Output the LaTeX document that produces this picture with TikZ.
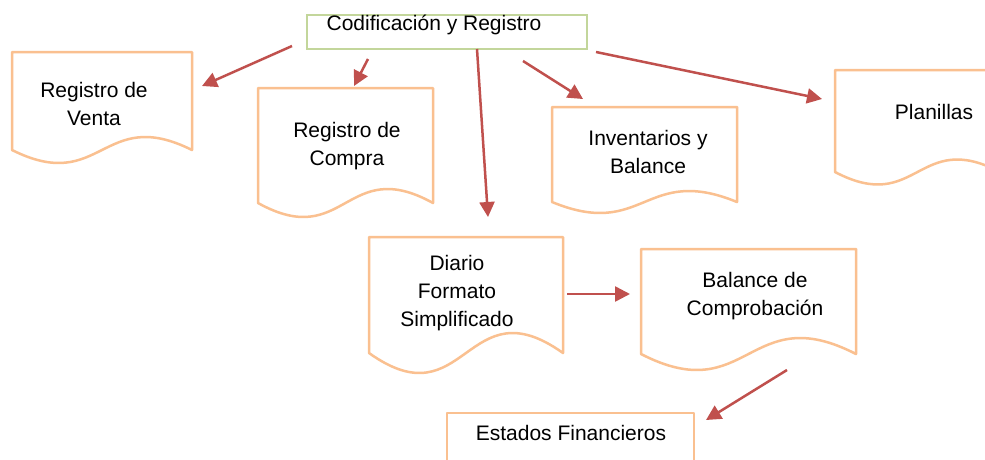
\documentclass[tikz,border=0pt]{standalone}
\usepackage{fontspec}
\setmainfont{Liberation Sans}
\usetikzlibrary{arrows.meta}
\definecolor{docorange}{HTML}{FAC090}
\definecolor{boxgreen}{HTML}{C3D69B}
\definecolor{arrred}{HTML}{C0504D}
\tikzset{
  docline/.style={draw=docorange, line width=2.5pt, line join=round},
  greenbox/.style={draw=boxgreen, line width=2.5pt, inner sep=0pt},
  arr/.style={draw=arrred, line width=2.5pt, -{Triangle[length=15pt,width=15pt]}},
  lbl/.style={font=\fontsize{21}{28}\selectfont, align=center, inner sep=0pt, text=black},
}
% document shape: x1, ytop, x2, ybottom, amplitude
\newcommand\docshp[5]{%
  \draw[docline] (#1,#4) -- (#1,#2) -- (#3,#2) -- (#3,#4)
    .. controls ({(#1+#3)/2},{#4-#5/0.289}) and ({(#1+#3)/2},{#4+#5/0.289}) .. (#1,#4) -- cycle;}
\begin{document}
\begin{tikzpicture}[x=1pt,y=-1pt]
\useasboundingbox (0,0) rectangle (985,459);
\clip (0,0) rectangle (985,459);
\fill[white] (0,0) rectangle (985,459);

% shapes
\node[greenbox, minimum width=280pt, minimum height=34pt] (codbox) at (447,32) {};
\docshp{12}{52}{192}{150}{13}
\docshp{258}{88}{433}{203}{14}
\docshp{552}{107}{737}{202}{11}
\docshp{835}{70}{1000}{172}{12.5}
\docshp{369}{237}{563}{353}{20}
\docshp{641}{249}{856}{354}{16}
\draw[docline] (447,475) -- (447,413) -- (694,413) -- (694,475);

% labels
\node[lbl] (cod) at (434,25) {Codificación y Registro};
\node[lbl] (venta) at (94,104) {Registro de\\Venta};
\node[lbl] (compra) at (347,146) {Registro de\\Compra};
\node[lbl] (inv) at (648,152) {Inventarios y\\Balance};
\node[lbl] (plan) at (934,112) {Planillas};
\node[lbl] (diario) at (457,293) {Diario\\Formato\\Simplificado};
\node[lbl] (bal) at (755,296) {Balance de\\Comprobación};
\node[lbl] (est) at (571,433) {Estados Financieros};

% arrow end points
\coordinate (a1s) at (292,46);  \coordinate (a1e) at (202,86);
\coordinate (a2s) at (368,59);  \coordinate (a2e) at (354,86);
\coordinate (a3s) at (477,49);  \coordinate (a3e) at (488,217);
\coordinate (a4s) at (523,61);  \coordinate (a4e) at (583,99);
\coordinate (a5s) at (596,52);  \coordinate (a5e) at (822,99);
\coordinate (a6s) at (567,294); \coordinate (a6e) at (630,294);
\coordinate (a7s) at (787,370); \coordinate (a7e) at (706,420);

\draw[arr] (a1s) -- (a1e);
\draw[arr] (a2s) -- (a2e);
\draw[arr] (a3s) -- (a3e);
\draw[arr] (a4s) -- (a4e);
\draw[arr] (a5s) -- (a5e);
\draw[arr] (a6s) -- (a6e);
\draw[arr] (a7s) -- (a7e);
\end{tikzpicture}
\end{document}
